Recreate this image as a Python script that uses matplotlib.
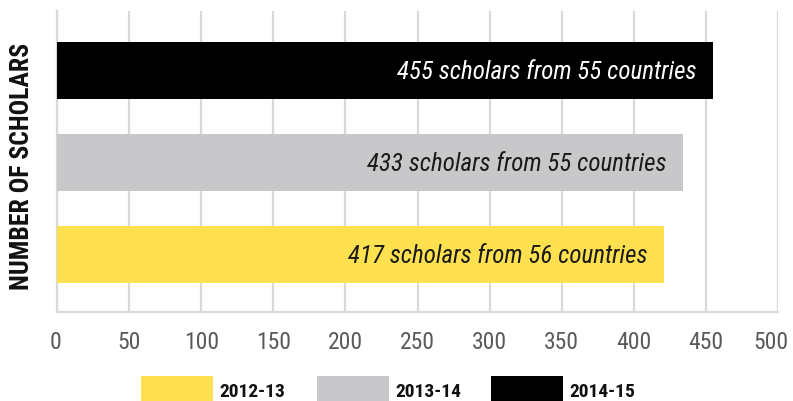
import matplotlib
matplotlib.use("Agg")
import matplotlib.pyplot as plt
from matplotlib.patches import Rectangle
from matplotlib.transforms import ScaledTranslation

years = ["2012-13", "2013-14", "2014-15"]
bar_values = [421, 434, 455]
scholars = [417, 433, 455]
countries = [56, 55, 55]
colors = ["#FFE04F", "#C8C8CA", "#000000"]
text_colors = ["#1a1a1a", "#1a1a1a", "#FFFFFF"]
xticks = [0, 50, 100, 150, 200, 250, 300, 350, 400, 450, 500]

FONT = ["Roboto Condensed", "Liberation Sans Narrow", "DejaVu Sans"]
plt.rcParams["font.family"] = FONT

fig = plt.figure(figsize=(7.93, 4.02), dpi=100)
ax = fig.add_axes([57/793, 1-313/402, (778-57)/793, (313-12)/402])

y = list(range(len(years)))
bars = ax.barh(y, bar_values, height=0.62, color=colors, zorder=3)
for yi, v, s, c, tc in zip(y, bar_values, scholars, countries, text_colors):
    ax.annotate(f"{s} scholars from {c} countries", xy=(v, yi), xytext=(-12, 0),
                textcoords="offset points", ha="right", va="center",
                fontsize=18, style="italic", color=tc, zorder=4)

ax.set_xlim(0, 500)
ax.set_ylim(-0.62, 2.65)
ax.set_xticks(xticks)
ax.set_xticklabels([str(t) for t in xticks])
ax.set_yticks([])
ax.tick_params(axis="x", length=0, pad=13, labelsize=17, labelcolor="#5a5a5a")
labels = ax.get_xticklabels()
labels[-1].set_transform(labels[-1].get_transform() + ScaledTranslation(-0.07, 0, fig.dpi_scale_trans))
labels[0].set_transform(labels[0].get_transform() + ScaledTranslation(-0.015, 0, fig.dpi_scale_trans))
ax.grid(axis="x", color="#D9D9D9", linewidth=1.6, zorder=0)
for s in ["top", "right"]:
    ax.spines[s].set_visible(False)
for s in ["left", "bottom"]:
    ax.spines[s].set_color("#D9D9D9")
    ax.spines[s].set_linewidth(1.6)

fig.text(22/793, 1-166/402, "NUMBER OF SCHOLARS", rotation=90, ha="center", va="center",
         fontsize=18.5, fontweight="bold", color="#111111")

# legend
leg_x = [141, 317, 491]
for lx, lab, col in zip(leg_x, years, colors):
    fig.add_artist(Rectangle((lx/793, 0), 72/793, (402-377)/402, transform=fig.transFigure,
                             facecolor=col, edgecolor="none"))
    fig.text((lx+78)/793, 1-392/402, lab, ha="left", va="center", fontsize=14,
             fontweight="bold", color="#111111")

fig.savefig("out.png", dpi=100)
